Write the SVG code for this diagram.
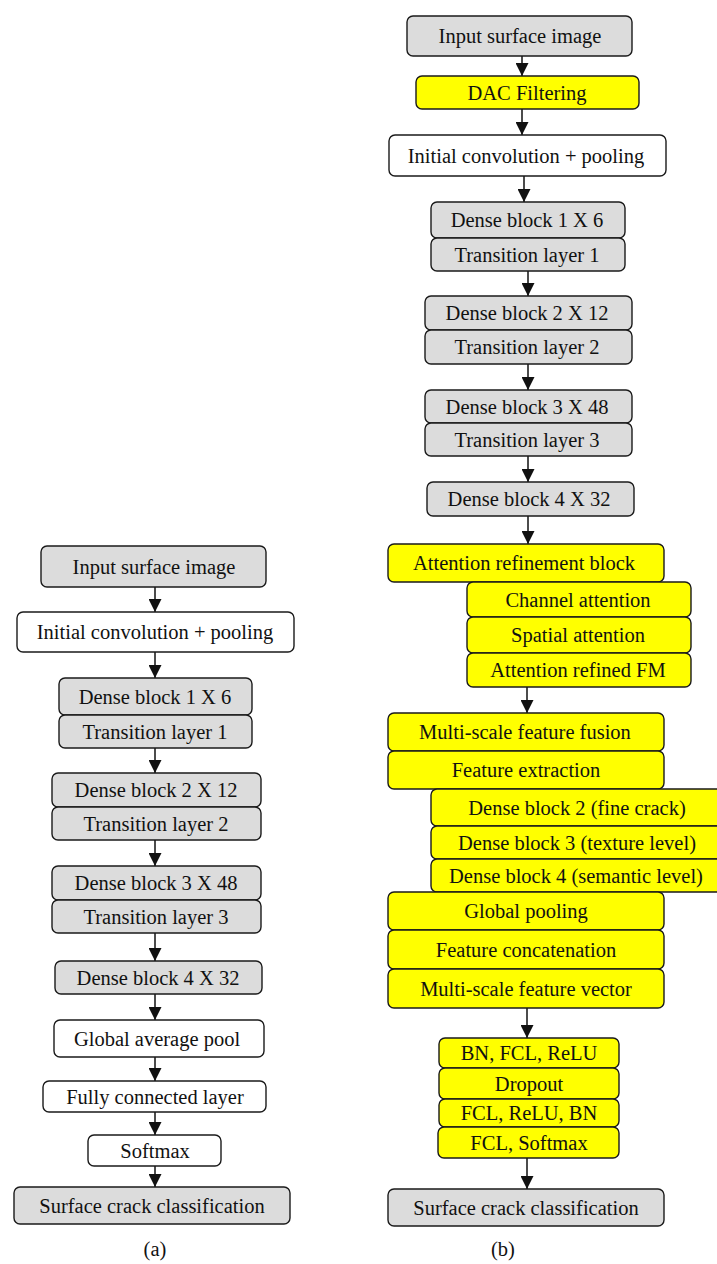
<svg xmlns="http://www.w3.org/2000/svg" width="717" height="1264" viewBox="0 0 717 1264">
<style>
rect{stroke:#1a1a1a;stroke-width:1.4}
.g{fill:#dcdcdc}
.w{fill:#ffffff}
.y{fill:#ffff00}
text{font-family:"Liberation Serif","Times New Roman",serif;font-size:20.5px;fill:#111;text-anchor:middle}
.c line{stroke:#111;stroke-width:1.5;marker-end:url(#ah)}
</style>
<defs>
<marker id="ah" markerWidth="13" markerHeight="13" refX="13" refY="6.5" orient="auto" markerUnits="userSpaceOnUse"><path d="M0,0 L13,6.5 L0,13 z" fill="#111"/></marker>
</defs>
<rect x="0" y="0" width="717" height="1264" fill="#fff" style="stroke:none"/>

<!-- connectors -->
<g id="connectors" class="c">
<line x1="155" y1="587" x2="155" y2="612"/>
<line x1="155" y1="652" x2="155" y2="678"/>
<line x1="155" y1="748" x2="155" y2="773"/>
<line x1="155" y1="840" x2="155" y2="866"/>
<line x1="155" y1="933" x2="155" y2="961"/>
<line x1="155" y1="994" x2="155" y2="1020"/>
<line x1="155" y1="1057" x2="155" y2="1081"/>
<line x1="155" y1="1112" x2="155" y2="1135"/>
<line x1="155" y1="1166" x2="155" y2="1187"/>

<line x1="522" y1="56" x2="522" y2="76"/>
<line x1="522" y1="109" x2="522" y2="135"/>
<line x1="524" y1="176" x2="524" y2="202"/>
<line x1="528" y1="271" x2="528" y2="296"/>
<line x1="528" y1="364" x2="528" y2="390"/>
<line x1="528" y1="456" x2="528" y2="482"/>
<line x1="528" y1="516" x2="528" y2="544"/>
<line x1="527" y1="687" x2="527" y2="713"/>
<line x1="527" y1="1008" x2="527" y2="1038"/>
<line x1="527" y1="1158" x2="527" y2="1189"/>
</g>

<!-- (a) -->
<g id="a-input"><rect class="g" x="41" y="546" width="225" height="41" rx="6"/><text x="154" y="574">Input surface image</text></g>
<g id="a-initconv"><rect class="w" x="17" y="612" width="277" height="40" rx="6"/><text x="155" y="639">Initial convolution + pooling</text></g>
<g id="a-db1"><rect class="g" x="59" y="678" width="193" height="37" rx="6"/><text x="155" y="704">Dense block 1 X 6</text></g>
<g id="a-tl1"><rect class="g" x="59" y="715" width="193" height="33" rx="6"/><text x="155" y="739">Transition layer 1</text></g>
<g id="a-db2"><rect class="g" x="52" y="773" width="209" height="34" rx="6"/><text x="156" y="797">Dense block 2 X 12</text></g>
<g id="a-tl2"><rect class="g" x="52" y="807" width="209" height="33" rx="6"/><text x="156" y="831">Transition layer 2</text></g>
<g id="a-db3"><rect class="g" x="52" y="866" width="209" height="34" rx="6"/><text x="156" y="890">Dense block 3 X 48</text></g>
<g id="a-tl3"><rect class="g" x="52" y="900" width="209" height="33" rx="6"/><text x="156" y="924">Transition layer 3</text></g>
<g id="a-db4"><rect class="g" x="55" y="961" width="207" height="33" rx="6"/><text x="158" y="985">Dense block 4 X 32</text></g>
<g id="a-gap"><rect class="w" x="54" y="1020" width="210" height="37" rx="6"/><text x="157" y="1046">Global average pool</text></g>
<g id="a-fc"><rect class="w" x="43" y="1081" width="223" height="31" rx="6"/><text x="155" y="1104">Fully connected layer</text></g>
<g id="a-softmax"><rect class="w" x="88" y="1135" width="133" height="31" rx="6"/><text x="155" y="1158">Softmax</text></g>
<g id="a-out"><rect class="g" x="14" y="1187" width="276" height="37" rx="6"/><text x="152" y="1213">Surface crack classification</text></g>
<text id="label-a" x="155" y="1256">(a)</text>

<!-- (b) -->
<g id="b-input"><rect class="g" x="407" y="16" width="225" height="40" rx="6"/><text x="520" y="43">Input surface image</text></g>
<g id="b-dac"><rect class="y" x="416" y="76" width="223" height="33" rx="6"/><text x="527" y="100">DAC Filtering</text></g>
<g id="b-initconv"><rect class="w" x="389" y="135" width="277" height="41" rx="6"/><text x="526" y="163">Initial convolution + pooling</text></g>
<g id="b-db1"><rect class="g" x="431" y="202" width="194" height="36" rx="6"/><text x="527" y="227">Dense block 1 X 6</text></g>
<g id="b-tl1"><rect class="g" x="431" y="238" width="194" height="33" rx="6"/><text x="527" y="262">Transition layer 1</text></g>
<g id="b-db2"><rect class="g" x="425" y="296" width="207" height="34" rx="6"/><text x="527" y="320">Dense block 2 X 12</text></g>
<g id="b-tl2"><rect class="g" x="425" y="330" width="207" height="34" rx="6"/><text x="527" y="354">Transition layer 2</text></g>
<g id="b-db3"><rect class="g" x="425" y="390" width="207" height="33" rx="6"/><text x="527" y="414">Dense block 3 X 48</text></g>
<g id="b-tl3"><rect class="g" x="425" y="423" width="207" height="33" rx="6"/><text x="527" y="447">Transition layer 3</text></g>
<g id="b-db4"><rect class="g" x="427" y="482" width="207" height="34" rx="6"/><text x="529" y="506">Dense block 4 X 32</text></g>
<g id="b-arb"><rect class="y" x="388" y="544" width="276" height="38" rx="6"/><text x="524" y="570">Attention refinement block</text></g>
<g id="b-ca"><rect class="y" x="467" y="582" width="224" height="35" rx="6"/><text x="578" y="607">Channel attention</text></g>
<g id="b-sa"><rect class="y" x="467" y="617" width="224" height="36" rx="6"/><text x="578" y="642">Spatial attention</text></g>
<g id="b-arfm"><rect class="y" x="467" y="653" width="224" height="34" rx="6"/><text x="578" y="677">Attention refined FM</text></g>
<g id="b-msff"><rect class="y" x="388" y="713" width="276" height="38" rx="6"/><text x="525" y="739">Multi-scale feature fusion</text></g>
<g id="b-fe"><rect class="y" x="388" y="751" width="276" height="38" rx="6"/><text x="526" y="777">Feature extraction</text></g>
<g id="b-d2"><rect class="y" x="431" y="789" width="292" height="37" rx="6"/><text x="577" y="815">Dense block 2 (fine crack)</text></g>
<g id="b-d3"><rect class="y" x="431" y="826" width="292" height="33" rx="6"/><text x="577" y="850">Dense block 3 (texture level)</text></g>
<g id="b-d4"><rect class="y" x="431" y="859" width="292" height="33" rx="6"/><text x="576" y="883">Dense block 4 (semantic level)</text></g>
<g id="b-gp"><rect class="y" x="388" y="892" width="276" height="38" rx="6"/><text x="526" y="918">Global pooling</text></g>
<g id="b-fc"><rect class="y" x="388" y="930" width="276" height="39" rx="6"/><text x="526" y="957">Feature concatenation</text></g>
<g id="b-msfv"><rect class="y" x="388" y="969" width="276" height="39" rx="6"/><text x="526" y="996">Multi-scale feature vector</text></g>
<g id="b-bn1"><rect class="y" x="439" y="1038" width="180" height="30" rx="6"/><text x="529" y="1060">BN, FCL, ReLU</text></g>
<g id="b-drop"><rect class="y" x="439" y="1068" width="180" height="31" rx="6"/><text x="529" y="1091">Dropout</text></g>
<g id="b-fcl2"><rect class="y" x="439" y="1099" width="180" height="28" rx="6"/><text x="529" y="1120">FCL, ReLU, BN</text></g>
<g id="b-fcl3"><rect class="y" x="438" y="1127" width="181" height="31" rx="6"/><text x="529" y="1150">FCL, Softmax</text></g>
<g id="b-out"><rect class="g" x="388" y="1189" width="276" height="37" rx="6"/><text x="526" y="1215">Surface crack classification</text></g>
<text id="label-b" x="503" y="1256">(b)</text>
</svg>
